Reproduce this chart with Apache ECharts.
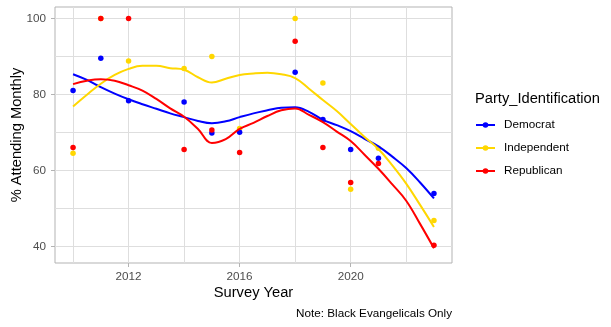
<!DOCTYPE html>
<html>
<head>
<meta charset="utf-8">
<script src="https://cdn.jsdelivr.net/npm/echarts@6/dist/echarts.min.js"></script>
<style>html,body{margin:0;padding:0;background:#fff}#c{width:611px;height:327px}</style>
</head>
<body>
<div id="c"></div>
<script>
// ---- data ----
const pointYears = [2010, 2011, 2012, 2014, 2015, 2016, 2018, 2019, 2020, 2021, 2023];
const democratPts = [81.0, 89.5, 78.3, 78.0, 69.8, 70.0, 85.8, 73.4, 65.5, 63.2, 53.9];
const independentPts = [64.5, 100, 88.8, 86.8, 90.0, 71.0, 100, 83.0, 55.0, 65.8, 46.8];
const republicanPts = [66.0, 100, 100, 65.5, 70.6, 64.7, 94.0, 66.0, 56.8, 61.8, 40.3];

// smoothed (loess) curves, read at half-year steps
const smoothYears = [2010, 2010.5, 2011, 2011.5, 2012, 2012.5, 2013, 2013.5, 2014, 2014.5, 2015, 2015.5, 2016, 2016.5, 2017, 2017.5, 2018, 2018.5, 2019, 2019.5, 2020, 2020.5, 2021, 2021.5, 2022, 2022.5, 2023];
const democratFit = [85.3, 83.8, 81.9, 80.2, 78.7, 77.4, 76.2, 75.0, 74.0, 73.0, 72.4, 72.9, 74.0, 75.0, 75.8, 76.5, 76.6, 75.4, 73.3, 71.9, 70.3, 68.3, 66.3, 63.6, 60.6, 56.8, 52.6];
const independentFit = [76.8, 79.9, 82.8, 85.1, 86.7, 87.5, 87.5, 86.9, 86.5, 84.5, 83.1, 84.1, 85.1, 85.5, 85.7, 85.3, 84.3, 81.5, 78.5, 75.6, 72.2, 68.8, 65.6, 61.3, 56.5, 50.9, 45.1];
const republicanFit = [82.7, 83.6, 84.0, 83.6, 82.4, 81.0, 78.8, 76.3, 74.1, 70.9, 67.2, 68.2, 70.9, 72.5, 74.3, 75.8, 76.3, 74.6, 72.7, 70.2, 67.7, 64.1, 60.4, 56.3, 52.0, 45.9, 39.5];

const groupNames = ['Democrat', 'Independent', 'Republican'];
const xMajorTicks = [2012, 2016, 2020];
const xMinorTicks = [2010, 2014, 2018, 2022];
const yMajorTicks = [40, 60, 80, 100];
const yMinorTicks = [50, 70, 90];

// ---- chart ----
const colors = {Democrat: '#0000FF', Independent: '#FFD700', Republican: '#FF0000'};
const FONT = 'Liberation Sans, Arial, sans-serif';
const pair = (xs, ys) => xs.map((x, i) => [x, ys[i]]);
const X_MIN = 2009.35, X_MAX = 2023.65, Y_MIN = 35.6, Y_MAX = 103;

const chart = echarts.init(document.getElementById('c'), null, {renderer: 'canvas'});

const gridLine = {show: true, lineStyle: {color: '#DEDEDE', width: 1}};
const option = {
  animation: false,
  grid: {left: 55, right: 159, top: 7, bottom: 64, show: true, borderColor: '#B3B3B3', borderWidth: 1,
         backgroundColor: 'transparent', containLabel: false, outerBoundsMode: 'none'},
  xAxis: [
    {type: 'value', min: X_MIN, max: X_MAX, position: 'bottom',
     axisLine: {show: false},
     axisTick: {show: true, customValues: xMajorTicks, length: 4, lineStyle: {color: '#B3B3B3'}},
     axisLabel: {customValues: xMajorTicks, formatter: v => String(v), margin: 8, color: '#4D4D4D', fontSize: 11.7, fontFamily: FONT},
     splitLine: gridLine,
     name: 'Survey Year', nameLocation: 'middle', nameGap: 22, nameMoveOverlap: false,
     nameTextStyle: {color: '#000', fontSize: 14.7, fontFamily: FONT}},
    {type: 'value', min: X_MIN, max: X_MAX, position: 'bottom',
     axisLine: {show: false},
     axisTick: {show: false, customValues: xMinorTicks},
     axisLabel: {show: false, customValues: xMinorTicks},
     splitLine: gridLine}
  ],
  yAxis: [
    {type: 'value', min: Y_MIN, max: Y_MAX,
     axisLine: {show: false},
     axisTick: {show: true, customValues: yMajorTicks, length: 4, lineStyle: {color: '#B3B3B3'}},
     axisLabel: {customValues: yMajorTicks, formatter: v => String(v), margin: 9, color: '#4D4D4D', fontSize: 11.7, fontFamily: FONT},
     splitLine: gridLine,
     name: '% Attending Monthly', nameLocation: 'middle', nameGap: 31, nameMoveOverlap: false,
     nameTextStyle: {color: '#000', fontSize: 14.7, fontFamily: FONT}},
    {type: 'value', min: Y_MIN, max: Y_MAX,
     axisLine: {show: false},
     axisTick: {show: false, customValues: yMinorTicks},
     axisLabel: {show: false, customValues: yMinorTicks},
     splitLine: gridLine}
  ],
  legend: {
    data: groupNames,
    orient: 'vertical', left: 470, top: 114,
    itemWidth: 19, itemHeight: 7, itemGap: 11,
    textStyle: {color: '#000', fontSize: 11.7, fontFamily: FONT, padding: [0, 0, 0, 4]},
    selectedMode: false
  },
  graphic: [
    {type: 'text', left: 475, top: 91, style: {text: 'Party_Identification', fill: '#000', fontSize: 14.7, fontFamily: FONT}},
    {type: 'text', right: 159, top: 308, style: {text: 'Note: Black Evangelicals Only', fill: '#000', fontSize: 11.7, fontFamily: FONT}}
  ],
  series: []
};

const pts = {Democrat: democratPts, Independent: independentPts, Republican: republicanPts};
const fits = {Democrat: democratFit, Independent: independentFit, Republican: republicanFit};
['Independent', 'Democrat', 'Republican'].forEach((g, i) => {
  option.series.push({
    name: g + ' points', type: 'scatter', data: pair(pointYears, pts[g]),
    symbol: 'circle', symbolSize: 5.5, itemStyle: {color: colors[g], opacity: 1}, z: 2 + i * 0.01
  });
});
groupNames.forEach((g, i) => {
  option.series.push({
    name: g, type: 'line', data: pair(smoothYears, fits[g]), smooth: 0.4,
    symbol: 'circle', symbolSize: 5, showSymbol: false, color: colors[g],
    lineStyle: {width: 2, color: colors[g]}, itemStyle: {color: colors[g]}, z: 3 + i * 0.01
  });
});

chart.setOption(option);
</script>
</body>
</html>
